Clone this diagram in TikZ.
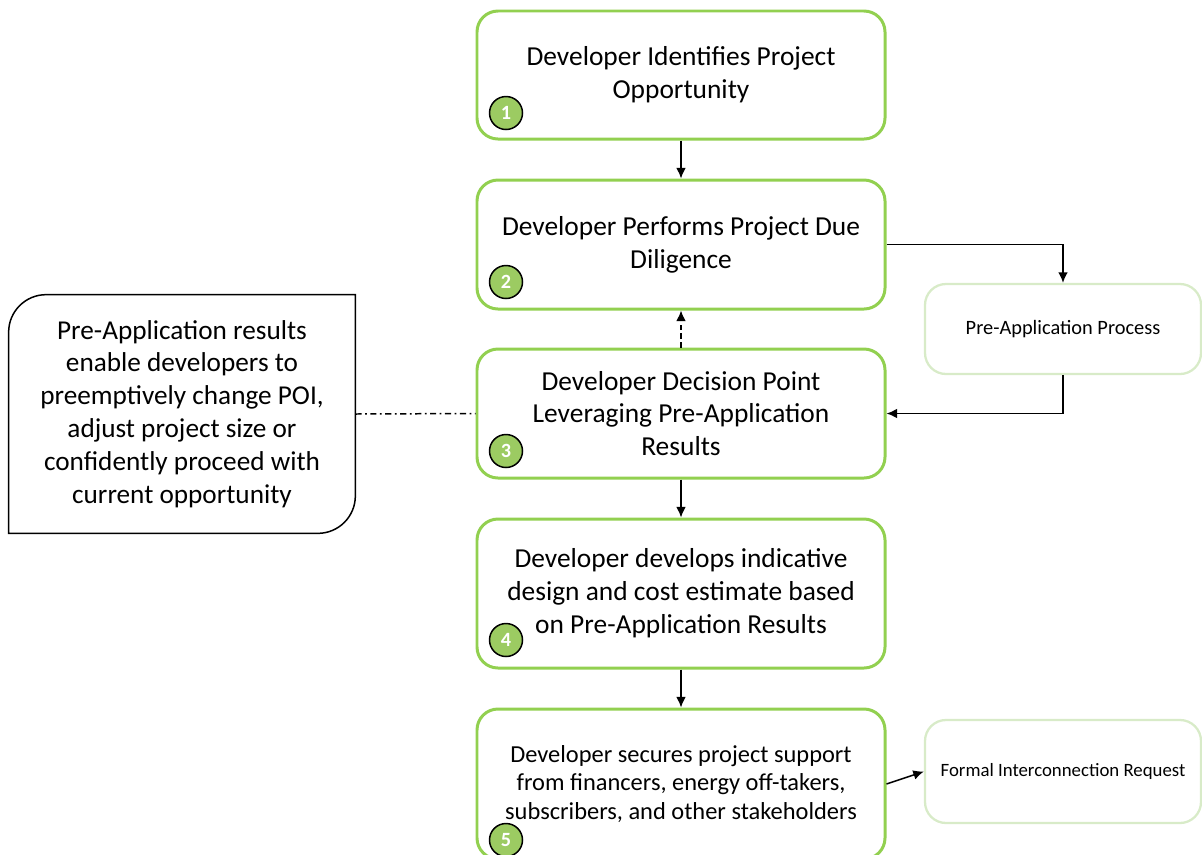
\documentclass[tikz,border=0pt]{standalone}
\usepackage{fontspec}
\setmainfont{Carlito}
\usetikzlibrary{arrows.meta}
\definecolor{stepgreen}{HTML}{92D050}
\definecolor{paleGreen}{HTML}{D8EBC8}
\definecolor{badgeGreen}{HTML}{9CCB62}

\begin{document}
\begin{tikzpicture}[>={Latex[length=6pt,width=5.5pt]},
    stepbox/.style={draw=stepgreen, line width=1.7pt, rounded corners=0.42cm, minimum width=8.16cm, align=center, font=\fontsize{15.6}{18.7}\selectfont},
    sidebox/.style={draw=paleGreen, line width=1.3pt, rounded corners=0.42cm, minimum width=5.52cm, align=center},
    badge/.style={circle, draw, line width=0.85pt, fill=badgeGreen, minimum size=0.66cm, inner sep=0pt, text=white, font=\fontsize{11.5}{13}\selectfont\bfseries},
    link/.style={->, line width=0.85pt}]
    \useasboundingbox (0,0) rectangle (24.04,-17.08);
    % main steps
    \node[stepbox, minimum height=2.56cm] (identify) at (13.62,-1.5) {Developer Identifies Project\\Opportunity};
    \node[stepbox, minimum height=2.58cm] (diligence) at (13.62,-4.89) {Developer Performs Project Due\\Diligence};
    \node[stepbox, minimum height=2.58cm] (decision) at (13.62,-8.27) {Developer Decision Point\\Leveraging Pre-Application\\Results};
    \node[stepbox, minimum height=2.98cm] (estimate) at (13.62,-11.87) {Developer develops indicative\\design and cost estimate based\\on Pre-Application Results};
    \node[stepbox, minimum height=3.0cm, font=\fontsize{13.9}{16.4}\selectfont] (support) at (13.62,-15.68) {Developer secures project support\\from financers, energy off-takers,\\subscribers, and other stakeholders};
    % numbered badges
    \node[badge] (b1) at (10.12,-2.26) {1};
    \node[badge] (b2) at (10.12,-5.64) {2};
    \node[badge] (b3) at (10.12,-9.02) {3};
    \node[badge] (b4) at (10.12,-12.8) {4};
    \node[badge] (b5) at (10.12,-16.8) {5};
    % side boxes
    \node[sidebox, minimum height=1.8cm, font=\fontsize{11.6}{13}\selectfont] (preapp) at (21.26,-6.58) {Pre-Application Process};
    \node[sidebox, minimum height=2.06cm, font=\fontsize{10.7}{12.5}\selectfont] (request) at (21.26,-15.43) {Formal Interconnection Request};
    \node[minimum width=6.92cm, minimum height=4.76cm, align=center, font=\fontsize{15.5}{18.7}\selectfont] (note) at (3.64,-8.28) {Pre-Application results\\enable developers to\\preemptively change POI,\\adjust project size or\\confidently proceed with\\current opportunity};
    \draw[line width=0.85pt] (note.north east) -- ([yshift=0.75cm]note.south east) arc[start angle=0, end angle=-90, radius=0.75cm] -- (note.south west) -- ([yshift=-0.75cm]note.north west) arc[start angle=180, end angle=90, radius=0.75cm] -- cycle;
    % connectors
    \draw[link] (identify) -- (diligence);
    \draw[link] (diligence.east) -| (preapp.north);
    \draw[link] (preapp.south) |- (decision.east);
    \draw[link, densely dashed] (decision) -- (diligence);
    \draw[link] (decision) -- (estimate);
    \draw[link] (estimate) -- (support);
    \draw[link] (support.east) -- (request.west);
    \draw[line width=0.85pt, dash pattern=on 3.5pt off 2pt on 1pt off 2pt] (note.east) -- (decision.west);
\end{tikzpicture}
\end{document}
